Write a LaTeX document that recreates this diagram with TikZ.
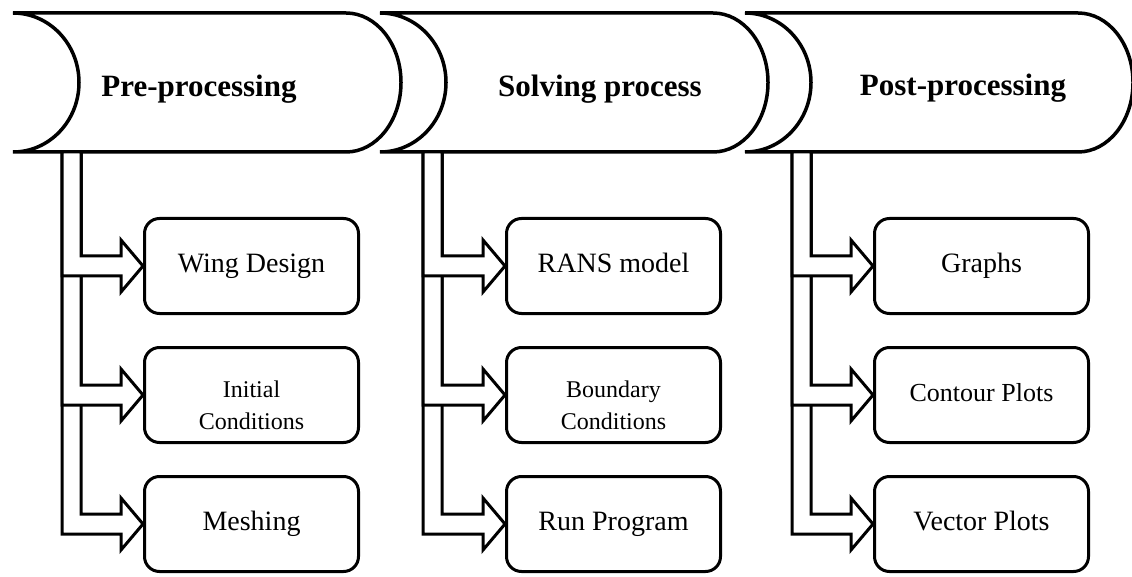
\documentclass[tikz,border=0pt]{standalone}
\usepackage{fontspec}
\setmainfont{Liberation Serif}
\usetikzlibrary{positioning, calc}

\begin{document}
\begin{tikzpicture}[x=1pt, y=-1pt, node distance=31pt]
        \tikzstyle{stage} = [font=\fontsize{31}{36}\selectfont\bfseries, anchor=base]
        \tikzstyle{task} = [rectangle, rounded corners=15pt, draw, line width=3pt, fill=white, minimum width=214pt, minimum height=95pt, align=center, font=\fontsize{28}{32}\selectfont, execute at begin node=\strut]
        \tikzstyle{twoline} = [font=\fontsize{24}{32}\selectfont, text depth=0pt]
        \tikzstyle{banner} = [draw, line width=3.5pt, fill=white]
        \tikzstyle{fatarrow} = [draw, line width=3pt, fill=white, line join=miter]

        \useasboundingbox (0,0) rectangle (1132,577);

        % Banners
        \foreach \x in {13, 380, 745}
            \draw[banner] (\x,13) -- (\x+333,13) arc[start angle=-90, end angle=90, x radius=55, y radius=69.5] -- (\x,152) arc[start angle=90, end angle=-90, x radius=66, y radius=69.5] -- cycle;

        \node[stage] (pre) at (199,97) {Pre-processing};
        \node[stage] (solve) at (600,97) {Solving process};
        \node[stage] (post) at (963,96) {Post-processing};

        % Tasks
        \node[task] (b11) at (251.5,266) {Wing Design};
        \node[task, twoline, below=of b11] (b12) {\rule{0pt}{36pt}Initial\\Conditions};
        \node[task, below=of b12] (b13) {Meshing};

        \node[task] (b21) at (613.5,266) {RANS model};
        \node[task, twoline, below=of b21] (b22) {\rule{0pt}{36pt}Boundary\\Conditions};
        \node[task, below=of b22] (b23) {Run Program};

        \node[task] (b31) at (981.5,266) {Graphs};
        \node[task, font=\fontsize{26}{30}\selectfont, below=of b31] (b32) {Contour Plots};
        \node[task, below=of b32] (b33) {Vector Plots};

        % Trunks
        \coordinate (t1) at (62,152);
        \coordinate (t2) at (423,152);
        \coordinate (t3) at (792,152);

        % Bent arrows, lowest first
        \foreach \col in {1,2,3}
            \foreach \row in {3,2,1}
                \draw[fatarrow] (t\col) -- ($(t\col |- b\col\row.west)+(0,10)$) -- ($(b\col\row.west)+(-22,10)$) -- ($(b\col\row.west)+(-22,26)$) -- (b\col\row.west) -- ($(b\col\row.west)+(-22,-26)$) -- ($(b\col\row.west)+(-22,-10)$) -- ($(t\col |- b\col\row.west)+(19,-10)$) -- ($(t\col)+(19,0)$) -- cycle;
    \end{tikzpicture}
\end{document}
